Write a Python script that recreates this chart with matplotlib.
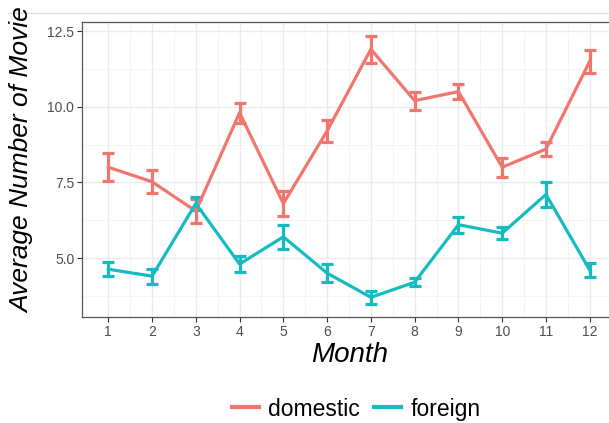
import numpy as np
import matplotlib.pyplot as plt
from matplotlib.lines import Line2D
from matplotlib.ticker import MultipleLocator

# values
months = list(range(1, 13))
domestic_mean = [8.0, 7.52, 6.55, 9.8, 6.8, 9.2, 11.9, 10.2, 10.5, 8.0, 8.6, 11.5]
domestic_err = [0.47, 0.38, 0.4, 0.33, 0.4, 0.35, 0.45, 0.3, 0.25, 0.32, 0.24, 0.37]
foreign_mean = [4.63, 4.4, 6.8, 4.8, 5.7, 4.5, 3.7, 4.2, 6.1, 5.82, 7.1, 4.6]
foreign_err = [0.23, 0.25, 0.2, 0.25, 0.4, 0.3, 0.22, 0.13, 0.27, 0.2, 0.4, 0.22]
series_names = ["domestic", "foreign"]
series_colors = ["#F2766E", "#14BCC1"]

plt.rcParams["font.family"] = ["Liberation Sans", "DejaVu Sans"]

fig = plt.figure(figsize=(6.09, 4.23), dpi=100)
ax = fig.add_axes([82 / 609, 1 - 317 / 423, 534 / 609, 295 / 423])

for mean, err, color in zip(
    [domestic_mean, foreign_mean], [domestic_err, foreign_err], series_colors
):
    ax.errorbar(
        months,
        mean,
        yerr=err,
        color=color,
        linewidth=2.3,
        elinewidth=2.3,
        capsize=4,
        capthick=2.3,
        zorder=3,
    )

# ggplot theme_bw look
ax.set_xlim(0.4, 12.6)
ax.set_ylim(3.05, 12.8)
ax.set_xticks(months)
ax.xaxis.set_minor_locator(MultipleLocator(0.5))
ax.set_yticks([5.0, 7.5, 10.0, 12.5])
ax.set_yticklabels(["5.0", "7.5", "10.0", "12.5"])
ax.yaxis.set_minor_locator(MultipleLocator(1.25))
ax.grid(which="major", color="#EBEBEB", linewidth=1.0, zorder=0)
ax.grid(which="minor", color="#F3F3F3", linewidth=0.6, zorder=0)
ax.set_axisbelow(True)
ax.tick_params(which="major", length=3.5, width=0.8, color="#333333",
               labelsize=10, labelcolor="#4D4D4D", pad=2)
ax.tick_params(which="minor", length=0)
ax.spines["right"].set_visible(False)
for side in ["left", "bottom", "top"]:
    ax.spines[side].set_color("#555555")
    ax.spines[side].set_linewidth(0.9)

fig.text(350 / 609, 1 - 355 / 423, "Month", fontsize=20, style="italic",
         ha="center", va="center")
fig.text(22 / 609, 1 - 313 / 423, "Average Number of Movie", fontsize=19,
         style="italic", rotation=90, ha="center", va="bottom")

# thin line at top of the screenshot
fig.add_artist(Line2D([8 / 609, 1], [1 - 13 / 423, 1 - 13 / 423],
                      color="#DDDDDD", linewidth=1))

handles = [Line2D([0], [0], color=c, linewidth=3) for c in series_colors]
fig.legend(handles, series_names, loc="center", bbox_to_anchor=(0.585, 1 - 409 / 423),
           ncol=2, frameon=False, fontsize=16.5, handlelength=1.2,
           handletextpad=0.4, columnspacing=0.6)

fig.savefig("out.png", dpi=100)
